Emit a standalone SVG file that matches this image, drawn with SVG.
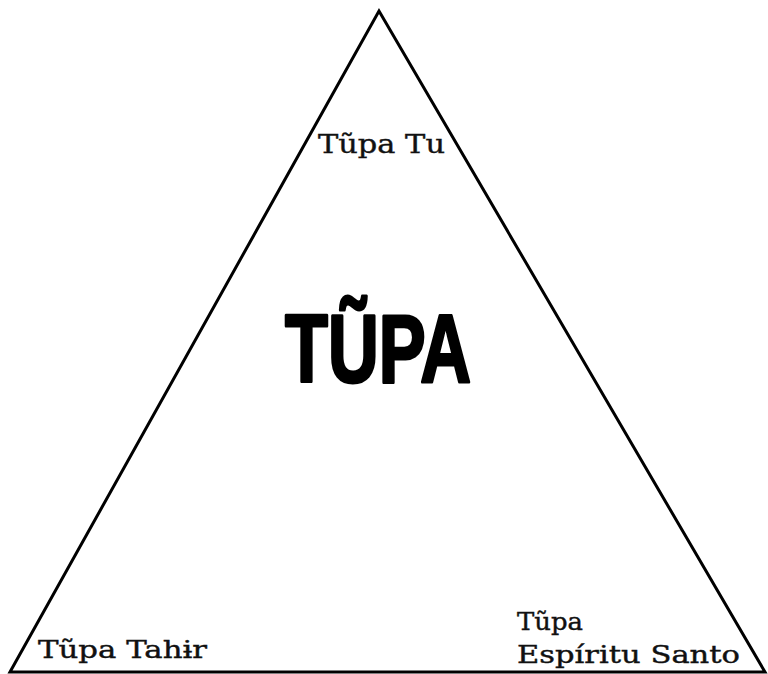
<svg xmlns="http://www.w3.org/2000/svg" width="768" height="674" viewBox="0 0 768 674">
<style>
.lbl{font-family:"DejaVu Serif","Liberation Serif",serif;fill:#111;stroke:#111;stroke-width:0.4}
.title{font-family:"Liberation Sans Narrow","Liberation Sans",Arial,sans-serif;font-weight:bold;fill:#000;stroke:#000;stroke-width:3;stroke-linejoin:round}
.edge{fill:none;stroke:#000;stroke-width:3;stroke-linejoin:miter}
</style>
<rect width="768" height="674" fill="#fff"/>
<g id="connectors">
<path class="edge" d="M10,672 L379,11 L765,672 Z"/>
</g>
<g id="title">
<text class="title" x="285" y="382" font-size="97" textLength="186" lengthAdjust="spacingAndGlyphs">TŨPA</text>
</g>
<g id="node-top">
<text class="lbl" x="318" y="153" font-size="26" textLength="127" lengthAdjust="spacingAndGlyphs">Tũpa Tu</text>
</g>
<g id="node-left">
<text class="lbl" x="38" y="658" font-size="24" textLength="169" lengthAdjust="spacingAndGlyphs">Tũpa Tahɨr</text>
</g>
<g id="node-right">
<text class="lbl" x="517" y="630" font-size="24" textLength="66" lengthAdjust="spacingAndGlyphs">Tũpa</text>
<text class="lbl" x="517" y="663" font-size="24" textLength="223" lengthAdjust="spacingAndGlyphs">Espíritu Santo</text>
</g>
</svg>
